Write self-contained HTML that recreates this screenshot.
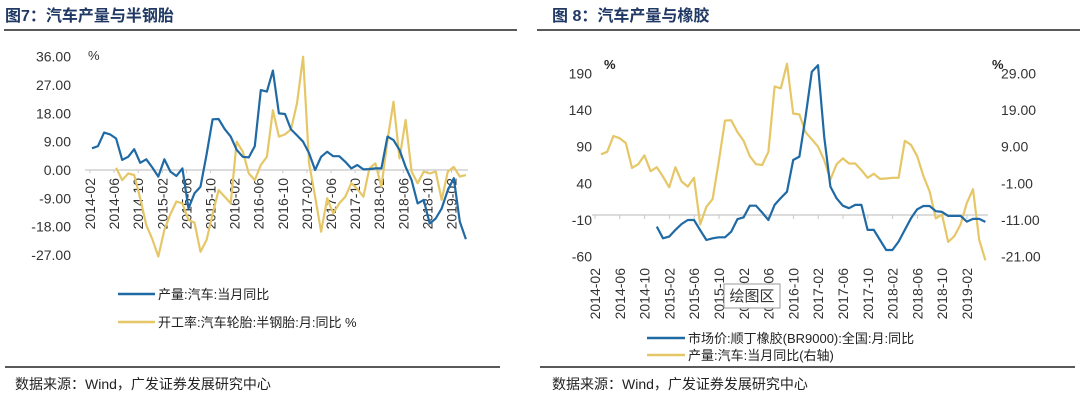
<!DOCTYPE html>
<html><head><meta charset="utf-8">
<style>
body{margin:0;width:1080px;height:401px;background:#fff;overflow:hidden;font-family:"Liberation Sans","Noto Sans CJK SC",sans-serif;}
svg{position:absolute;left:0;top:0}
</style></head>
<body>
<svg id="s" width="1080" height="401" xmlns="http://www.w3.org/2000/svg">
<text x="5" y="21" font-size="16" font-weight="bold" fill="#1f3864" font-family="Liberation Sans,Noto Sans CJK SC,sans-serif">图7：汽车产量与半钢胎</text>
<text x="552" y="21" font-size="16" font-weight="bold" fill="#1f3864" font-family="Liberation Sans,Noto Sans CJK SC,sans-serif">图 8：汽车产量与橡胶</text>
<line x1="4" y1="30" x2="517" y2="30" stroke="#222" stroke-width="1.5"/>
<line x1="537" y1="30" x2="1080" y2="30" stroke="#222" stroke-width="1.5"/>
<line x1="5" y1="367" x2="500" y2="367" stroke="#222" stroke-width="1.5"/>
<line x1="540" y1="367" x2="1075" y2="367" stroke="#222" stroke-width="1.5"/>
<text x="15" y="389" font-size="14" fill="#222">数据来源：Wind，广发证券发展研究中心</text>
<text x="552" y="389" font-size="14" fill="#222">数据来源：Wind，广发证券发展研究中心</text>
<g id="c7"></g>
<g id="c8"></g>
</svg>
<script>
const ticksX=["2014-02","2014-06","2014-10","2015-02","2015-06","2015-10","2016-02","2016-06","2016-10","2017-02","2017-06","2017-10","2018-02","2018-06","2018-10","2019-02"];
const autoProd=[6.9,7.6,11.9,11.3,10,3.2,4.2,6.6,2.3,3.4,0.8,-2.1,3.4,-0.5,-1.9,0.5,-12.2,-7.4,-5.3,5,16.1,16.2,13,10.6,6.4,4.2,4,7.6,25.4,24.9,31.6,18,17.8,12.9,11,9,5.3,0,4.2,5.8,4.4,4.4,2.6,0.5,1.6,0.2,0.3,0.5,0.5,10.6,9.5,6.4,1,-3.2,-10.6,-9.5,-17,-15.4,-12.2,-6.4,-2.6,-16.4,-22];
const tireRate=[null,null,null,null,0.7,-3.2,-1.1,-1.6,-9,-17.5,-22,-27.5,-19,-14,-10,-10.6,-15.9,-16.7,-26,-22.2,-14,-6.4,-8.5,-10.6,9,5.8,-1.1,-3.2,1.6,4.2,19,10.6,11.3,12.9,21.2,36,2.1,-8.5,-19.6,-9,-13.8,-10.6,-8.5,-4.2,-6,-8.5,0.5,2.1,-5.3,9.5,21.7,3.7,15.9,-0.5,-4.2,-0.5,-1.1,-0.5,-9.5,-0.5,1,-2.1,-1.6];
const rubber=[null,null,null,null,null,null,null,null,null,-19,-35,-32.7,-23.6,-15.5,-10,-10,-24,-37.3,-35,-33.6,-33.6,-26,-9,-6.4,9.5,9.5,0,-10,10.5,20,28.6,71.8,76.4,131,192,201,103.6,35.5,19.5,9.5,6,10.5,10.5,-23.6,-23.6,-37.3,-51,-51,-39.5,-23.6,-7.7,4.5,9,9,2,1,-4.5,-4.5,-4.5,-12.3,-8.6,-8.6,-12.7];
const ticksY7=[36,27,18,9,0,-9,-18,-27];
const ticksY8L=[190,140,90,40,-10,-60];
const ticksY8R=[29,19,9,-1,-11,-21];
const NS="http://www.w3.org/2000/svg";
const BLUE="#1f6aa5",YEL="#e6c767";
function mk(p,t,a,txt){const e=document.createElementNS(NS,t);for(const k in a)e.setAttribute(k,a[k]);if(txt!==undefined)e.textContent=txt;p.appendChild(e);return e;}
function pathOf(arr,fx,fy){let d="",pen=false;arr.forEach((v,i)=>{if(v===null){pen=false;return;}d+=(pen?"L":"M")+fx(i).toFixed(1)+","+fy(v).toFixed(1);pen=true;});return d;}
// chart 7
(function(){
const g=document.getElementById('c7');
const x=i=>92+i*6.03, y=v=>170-v*3.147;
ticksY7.forEach(v=>{const t=mk(g,'text',{x:71,y:y(v)+5,'text-anchor':'end','font-size':14,fill:'#333'},v.toFixed(2));

});
const pc=mk(g,'text',{x:88,y:60,'font-size':13,fill:'#333'},'%');


const ax=mk(g,'line',{x1:85,y1:y(0),x2:468,y2:y(0),stroke:'#c8c8c8','stroke-width':1.2});


ticksX.forEach((s,k)=>{const cx=90+k*24.1;const tk=mk(g,'line',{x1:cx,y1:y(0),x2:cx,y2:y(0)+3,stroke:'#c8c8c8'});


const t=mk(g,'text',{x:0,y:0,transform:`translate(${cx+5},178) rotate(-90)`,'text-anchor':'end','font-size':14,fill:'#333'},s);

});
const l1=mk(g,'path',{d:pathOf(tireRate,x,y),fill:'none',stroke:YEL,'stroke-width':2.2,'stroke-linejoin':'round'});


const l2=mk(g,'path',{d:pathOf(autoProd,x,y),fill:'none',stroke:BLUE,'stroke-width':2.2,'stroke-linejoin':'round'});


const lg1=mk(g,'line',{x1:118,y1:294,x2:155,y2:294,stroke:BLUE,'stroke-width':2.5});


const lt1=mk(g,'text',{x:158,y:299,'font-size':13,fill:'#222'},'产量:汽车:当月同比');


const lg2=mk(g,'line',{x1:118,y1:322,x2:155,y2:322,stroke:YEL,'stroke-width':2.5});


const lt2=mk(g,'text',{x:158,y:327,'font-size':13,fill:'#222'},'开工率:汽车轮胎:半钢胎:月:同比 %');


})();
// chart 8
(function(){
const g=document.getElementById('c8');
const x=i=>601+i*6.2, yl=v=>73.3+(190-v)*0.7333, yr=v=>73.3+(29-v)*3.667;
ticksY8L.forEach(v=>{const t=mk(g,'text',{x:592,y:yl(v)+5,'text-anchor':'end','font-size':14,fill:'#333'},String(v));

});
ticksY8R.forEach(v=>{const t=mk(g,'text',{x:1001,y:yr(v)+5,'font-size':14,fill:'#333'},v.toFixed(2));

});
const p1=mk(g,'text',{x:604,y:69,'font-size':13,fill:'#222','font-weight':'bold'},'%');


const p2=mk(g,'text',{x:992,y:69,'font-size':13,fill:'#222','font-weight':'bold'},'%');


const ax=mk(g,'line',{x1:592,y1:215,x2:988,y2:215,stroke:'#c8c8c8','stroke-width':1.2});


ticksX.forEach((s,k)=>{const cx=595+k*24.8;const tk=mk(g,'line',{x1:cx,y1:215,x2:cx,y2:219,stroke:'#c8c8c8'});


const t=mk(g,'text',{x:0,y:0,transform:`translate(${cx+5},268) rotate(-90)`,'text-anchor':'end','font-size':14,fill:'#333'},s);

});
const l1=mk(g,'path',{d:pathOf(autoProd,x,yr),fill:'none',stroke:YEL,'stroke-width':2.2,'stroke-linejoin':'round'});


const l2=mk(g,'path',{d:pathOf(rubber,x,yl),fill:'none',stroke:BLUE,'stroke-width':2.2,'stroke-linejoin':'round'});


const tb=mk(g,'rect',{x:724,y:284,width:56,height:24,fill:'#fff',stroke:'#999'});


const tt=mk(g,'text',{x:752,y:301,'text-anchor':'middle','font-size':15,fill:'#333'},'绘图区');


const lg1=mk(g,'line',{x1:647,y1:338,x2:685,y2:338,stroke:BLUE,'stroke-width':2.5});


const lt1=mk(g,'text',{x:688,y:343,'font-size':13,fill:'#222'},'市场价:顺丁橡胶(BR9000):全国:月:同比');


const lg2=mk(g,'line',{x1:647,y1:355,x2:685,y2:355,stroke:YEL,'stroke-width':2.5});


const lt2=mk(g,'text',{x:688,y:360,'font-size':13,fill:'#222'},'产量:汽车:当月同比(右轴)');


})();
</script>
</body></html>
